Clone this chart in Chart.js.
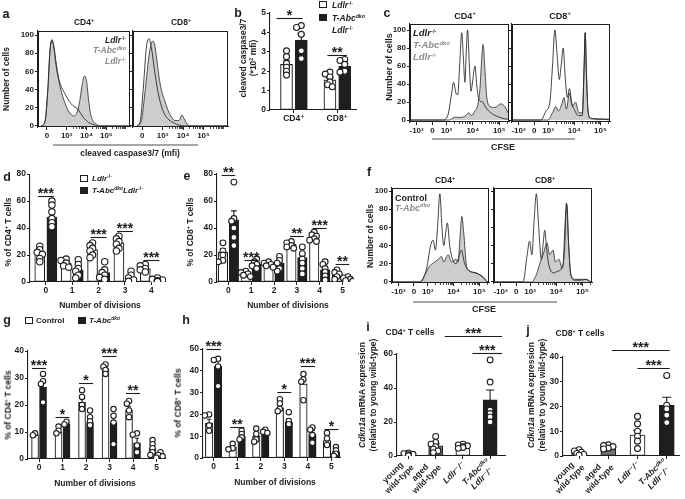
<!DOCTYPE html>
<html>
<head>
<meta charset="utf-8">
<title>T-Abc dko figure</title>
<script src="https://cdn.jsdelivr.net/npm/chart.js@4.4.1/dist/chart.umd.min.js"></script>
<style>
  html, body { margin: 0; padding: 0; background: #fff; }
  #fig { position: relative; width: 685px; height: 499px; overflow: hidden; background: #fff;
         font-family: 'Liberation Sans', Arial, Helvetica, sans-serif; color: #1e1e1e; }
  #fig canvas { position: absolute; }
  .tx { position: absolute; white-space: nowrap; font-weight: bold; font-size: 8.5px; line-height: 1; }
  .tx sup { font-size: 0.62em; vertical-align: 0.55em; line-height: 0; }
  .gray { color: #8c8c8c; }
  .sw { position: absolute; border: 1px solid #1e1e1e; box-sizing: border-box; }
  .rule { position: absolute; height: 1.5px; background: #a6a6a6; }
</style>
</head>
<body>
<div id="fig"></div>
<script>
// ---- a: cleaved caspase3/7 histograms, x in display units (0, 10^3, 10^4, 10^5 -> 0..3)
const aTicks = [0, 1, 2, 3];
const aTickLabels = ['0', '10³', '10⁴', '10⁵'];
const aCD4Dko = [[-0.3,0],[-0.1,4],[0.05,40],[0.15,80],[0.25,95],[0.35,86],[0.45,68],[0.6,50],[0.75,36],[0.9,26],[1.05,18],[1.2,13],[1.35,11],[1.5,14],[1.65,26],[1.78,45],[1.9,55],[2.0,50],[2.1,30],[2.2,14],[2.35,5],[2.5,2],[2.7,0],[4.2,0]];
const aCD4Ldlr = [[-0.3,0],[-0.1,5],[0.05,42],[0.15,82],[0.25,94],[0.35,88],[0.45,72],[0.6,52],[0.75,42],[0.9,36],[1.05,30],[1.2,25],[1.4,21],[1.55,19],[1.7,14],[1.9,8],[2.1,4],[2.3,2],[2.6,0],[4.2,0]];
const aCD8Dko = [[-0.25,0],[-0.05,5],[0.15,40],[0.35,80],[0.5,93],[0.6,90],[0.72,72],[0.85,50],[0.98,36],[1.1,28],[1.25,18],[1.4,11],[1.6,6],[1.8,6],[1.95,12],[2.05,8],[2.2,2],[2.4,0],[4.2,0]];
const aCD8Ldlr = [[-0.25,0],[-0.1,5],[0.05,40],[0.2,85],[0.33,96],[0.45,86],[0.6,62],[0.75,40],[0.9,25],[1.05,15],[1.25,8],[1.5,4],[1.8,1],[2.1,0],[4.2,0]];

// ---- c / f: CFSE histograms (biexponential display units)
const cfTicks = [-0.6, 0, 0.53, 1.53, 2.53];
const cfTickLabels = ['-10³', '0', '10³', '10⁴', '10⁵'];
const cCD4Ldlr = [[-0.85,0],[0.39,0],[0.58,5],[0.73,30],[0.8,42],[0.89,30],[0.96,28],[1.03,60],[1.11,97],[1.17,70],[1.23,42],[1.28,75],[1.33,100],[1.4,60],[1.46,32],[1.53,45],[1.61,60],[1.69,35],[1.77,22],[1.9,20],[2.02,14],[2.21,8],[2.46,4],[2.84,1],[2.9,1]];
const cCD4Dko = [[-0.85,0],[0.64,0],[0.83,3],[1.08,3],[1.27,5],[1.37,8],[1.48,5],[1.61,10],[1.71,16],[1.8,35],[1.87,70],[1.92,84],[1.99,55],[2.06,25],[2.19,15],[2.37,14],[2.59,18],[2.74,15],[2.9,6]];
const cCD8Ldlr = [[-0.85,0],[0.26,0],[0.45,10],[0.6,20],[0.7,60],[0.79,100],[0.87,75],[0.96,45],[1.03,60],[1.11,80],[1.18,50],[1.27,25],[1.35,35],[1.43,20],[1.56,10],[1.69,5],[1.84,5],[1.91,60],[1.95,97],[2.0,50],[2.06,10],[2.15,2],[2.59,1],[2.9,0]];
const cCD8Dko = [[-0.85,0],[0.52,0],[0.7,8],[0.83,15],[0.93,10],[1.06,18],[1.14,25],[1.23,12],[1.35,30],[1.46,15],[1.58,20],[1.71,8],[1.84,8],[1.91,60],[1.95,97],[2.0,50],[2.06,10],[2.15,2],[2.59,1],[2.9,1]];
const fCD4Ctrl = [[-0.85,0],[0.23,0],[0.49,15],[0.64,40],[0.74,46],[0.83,35],[0.91,60],[1.0,97],[1.08,60],[1.15,40],[1.23,55],[1.29,65],[1.38,40],[1.49,25],[1.62,20],[1.74,28],[1.83,35],[1.96,20],[2.15,12],[2.41,10],[2.67,5],[2.86,0],[2.9,0]];
const fCD4Dko = [[-0.85,0],[0.23,0],[0.42,8],[0.62,18],[0.81,22],[0.94,25],[1.06,28],[1.15,22],[1.26,28],[1.32,30],[1.45,22],[1.62,25],[1.71,22],[1.77,45],[1.85,72],[1.92,55],[2.03,18],[2.15,12],[2.35,10],[2.54,8],[2.73,4],[2.82,0],[2.9,0]];
const fCD8Ctrl = [[-0.85,0],[0.26,0],[0.42,30],[0.51,45],[0.6,30],[0.69,70],[0.77,97],[0.86,60],[0.96,25],[1.04,45],[1.09,57],[1.17,35],[1.24,20],[1.41,10],[1.6,12],[1.79,20],[1.88,70],[1.94,85],[2.01,40],[2.09,8],[2.24,2],[2.5,2],[2.69,3],[2.88,0],[2.9,0]];
const fCD8Dko = [[-0.85,0],[0.58,0],[0.77,8],[0.9,20],[1.03,30],[1.18,43],[1.28,30],[1.41,35],[1.5,22],[1.63,25],[1.76,15],[1.86,40],[1.92,87],[1.99,50],[2.08,10],[2.24,3],[2.63,3],[2.88,0],[2.9,0]];

// ---- b: cleaved caspase3/7 (*10^2 mfi)
const bCats = ['CD4⁺', 'CD8⁺'];
const bMeanCtrl = [2.35, 1.55];
const bMeanDko = [3.6, 2.25];
const bPtsCtrl = [[3.05, 2.75, 2.4, 2.2, 2.0, 1.8], [1.95, 1.85, 1.7, 1.45, 1.3, 1.2]];
const bPtsDko = [[4.35, 4.25, 3.9, 3.05, 2.65], [2.6, 2.55, 2.35, 2.0, 1.95]];
const bSig = [[-0.4, 0.2, 4.75, '*'], [0.77, 1.22, 2.85, '**']];

// ---- d / e: % of cells per division, Ldlr-/- vs T-Abc dko Ldlr-/-
const dCats = ['0', '1', '2', '3', '4'];
const dMeanCtrl = [21, 14, 24, 29, 10];
const dMeanDko = [48, 9, 7, 3, 1.5];
const dPtsCtrl = [[26.5, 24, 22, 20.5, 17.5, 15], [17, 16, 14, 12, 11], [29, 27, 25, 23, 20, 18], [34, 32, 30, 28, 25, 23], [13, 12, 10, 9, 7.5]];
const dPtsDko = [[60, 57, 52, 47, 44, 41], [16.5, 13, 10, 8, 5, 3], [15, 9, 7, 5, 3.5, 2], [8, 5, 3, 1.5, 0.5], [3, 2, 1.5, 1, 0.5, 0.3]];
const dSig = [[-0.3, 0.3, 64, '***'], [1.7, 2.3, 33, '***'], [2.7, 3.3, 37.5, '***'], [3.7, 4.3, 16, '***']];

const eCats = ['0', '1', '2', '3', '4', '5'];
const eMeanCtrl = [22, 6, 14, 28, 33, 5];
const eMeanDko = [46, 13, 14, 18, 9, 3];
const ePtsCtrl = [[29, 23, 20, 16, 15], [8, 7, 6, 5, 4], [15, 14, 13, 12, 11], [30, 29, 27, 26, 25], [37, 35, 34, 32, 31, 30], [9, 7, 6, 4, 2]];
const ePtsDko = [[74, 47, 45, 40, 33, 27], [17, 15, 13, 12, 10], [19, 16, 14, 10, 8], [26, 21, 17, 14, 10, 6], [15, 13, 10, 7.5, 4.5, 1.5], [4, 3, 2, 1, 0.5]];
const eSig = [[-0.3, 0.3, 79, '**'], [0.7, 1.3, 16.3, '***'], [2.7, 3.3, 34, '**'], [3.7, 4.3, 40, '***'], [4.7, 5.3, 13.3, '**']];

// ---- g / h: Control vs T-Abc dko
const gCats = ['0', '1', '2', '3', '4', '5'];
const gMeanCtrl = [9, 10, 21, 33.5, 18, 4];
const gMeanDko = [26.5, 13, 13.5, 13.5, 6, 1.5];
const gPtsCtrl = [[9.5, 8.8], [12, 10.5, 9.5], [25.5, 23, 20, 18.5], [35, 34.2, 33, 31.5], [21.5, 20.5, 18, 15.5], [7, 5.5, 4, 2.5, 1.5]];
const gPtsDko = [[31.5, 28.8, 27.8, 21], [13.8, 12.8], [18, 15.5, 14, 12.5], [18.5, 16, 13.5, 5.5], [9.5, 9, 5, 2.5], [2.5, 1.5, 1, 0.5]];
const gSig = [[-0.3, 0.3, 33.7, '***'], [0.7, 1.3, 15.6, '*'], [1.7, 2.3, 28, '*'], [2.7, 3.3, 38, '***'], [3.7, 4.3, 24.4, '**']];

const hCats = ['0', '1', '2', '3', '4', '5'];
const hMeanCtrl = [16, 5, 10, 23, 34, 8];
const hMeanDko = [42, 10, 12.5, 16.5, 11, 3];
const hPtsCtrl = [[20, 19.5, 15, 12.5], [6.5, 4.5, 4], [13.5, 11, 8.5, 7.5], [27, 25, 22.5, 21.5], [38.5, 36, 35, 26.5], [11.5, 9, 6]];
const hPtsDko = [[45.5, 45, 42, 33], [12.5, 11, 9.5, 8.5], [13, 12, 11.5], [21, 17, 15.5], [14, 13, 10.5, 7], [5, 3.5, 2, 1]];
const hSig = [[-0.3, 0.3, 50, '***'], [0.7, 1.3, 14.2, '**'], [2.7, 3.3, 30.3, '*'], [3.7, 4.3, 42.2, '***'], [4.7, 5.3, 13.3, '*']];

// ---- i / j: Cdkn1a mRNA expression
const ijCats = [['young', 'wild-type'], ['aged', 'wild-type'], ['Ldlr⁻/⁻'], ['T-Abcᵈᵏᵒ', 'Ldlr⁻/⁻']];
const iMeans = [1, 6, 5.5, 33];
const iPts = [[1.8, 1.4, 1.0, 0.8, 0.5, 0.3], [11.5, 8, 7, 5.5, 4, 3, 2], [7, 6.5, 6, 5.5, 5, 4.5], [56.5, 43.5, 27, 25, 23, 20]];
const iSig = [[1.33, 3.44, 70.5, '***'], [2.35, 3.44, 60.5, '***']];
const jMeans = [1, 3.5, 8.5, 20.5];
const jPts = [[2.5, 2, 1.5, 1, 0.6, 0.3], [4.5, 4.2, 3.8, 3.2, 2.8], [16, 13, 10, 8, 6, 3], [32.5, 20.5, 19, 16.5, 13.5]];
const jSig = [[1.12, 3.1, 42.8, '***'], [2.0, 3.1, 35.6, '***']];

// ------------------------------------------------------------------
const INK = '#1e1e1e';
const FONT = "'Liberation Sans', Arial, Helvetica, 'DejaVu Sans', sans-serif";
Chart.defaults.font.family = FONT;
Chart.defaults.color = INK;
Chart.defaults.animation = false;

const fig = document.getElementById('fig');
const LDLR = '<i>Ldlr</i><sup>-/-</sup>';
const TABC = '<i>T-Abc<sup>dko</sup></i>';

function txt(x, y, html, opt = {}) {
  const d = document.createElement('div');
  d.className = 'tx' + (opt.cls ? ' ' + opt.cls : '');
  d.innerHTML = html;
  d.style.left = x + 'px';
  d.style.top = y + 'px';
  if (opt.size) d.style.fontSize = opt.size + 'px';
  const ax = opt.anchor === 'left' ? '0' : opt.anchor === 'right' ? '-100%' : '-50%';
  d.style.transform = 'translate(' + ax + ',-50%)' + (opt.rot ? ' rotate(' + opt.rot + 'deg)' : '');
  fig.appendChild(d);
}
function swatch(x, y, w, h, fill) {
  const d = document.createElement('div');
  d.className = 'sw';
  Object.assign(d.style, { left: x + 'px', top: y + 'px', width: w + 'px', height: h + 'px', background: fill });
  fig.appendChild(d);
}
function rule(x0, x1, y) {
  const d = document.createElement('div');
  d.className = 'rule';
  Object.assign(d.style, { left: x0 + 'px', top: y + 'px', width: (x1 - x0) + 'px' });
  fig.appendChild(d);
}

function makeCanvas(p, m) {
  const c = document.createElement('canvas');
  const w = p[2] - p[0] + m[0] + m[2], h = p[3] - p[1] + m[1] + m[3];
  c.width = w; c.height = h;
  Object.assign(c.style, { left: (p[0] - m[0]) + 'px', top: (p[1] - m[1]) + 'px', width: w + 'px', height: h + 'px' });
  fig.appendChild(c);
  return c;
}
const zeroPad = s => { s.paddingLeft = s.paddingRight = s.paddingTop = s.paddingBottom = 0; };
const fitX = h => s => { s.height = h; zeroPad(s); };
const fitY = w => s => { s.width = w; zeroPad(s); };

function axis(o) {
  return Object.assign({
    type: 'linear', offset: false,
    border: { display: true, color: INK, width: 1.1 },
    grid: { display: true, offset: false, drawOnChartArea: false, drawTicks: true, tickLength: 3, tickWidth: 1, tickColor: INK },
  }, o);
}
function baseOptions(m) {
  return {
    responsive: false, animation: false, events: [], devicePixelRatio: 1,
    layout: { padding: { left: 0, top: m[1], right: m[2], bottom: 0 } },
    plugins: { legend: { display: false }, tooltip: { enabled: false } },
  };
}

const boxPlugin = {
  id: 'box',
  afterDraw(ch) {
    const a = ch.chartArea, c = ch.ctx;
    c.save(); c.strokeStyle = INK; c.lineWidth = 1;
    c.strokeRect(a.left + 0.5, a.top + 0.5, a.right - a.left - 1, a.bottom - a.top - 1);
    c.restore();
  }
};
function minorPlugin(values) {
  return {
    id: 'minor',
    afterDraw(ch) {
      const c = ch.ctx, x = ch.scales.x, b = ch.chartArea.bottom;
      c.save(); c.strokeStyle = INK; c.lineWidth = 0.8; c.beginPath();
      values.forEach(v => {
        if (v < x.min || v > x.max) return;
        const px = Math.round(x.getPixelForValue(v)) + 0.5;
        c.moveTo(px, b); c.lineTo(px, b + 2);
      });
      c.stroke(); c.restore();
    }
  };
}
function logMinor(starts) {
  const out = [];
  starts.forEach(s => { for (let k = 2; k <= 9; k++) out.push(s + Math.log10(k)); });
  return out;
}

function histo(p, m, xr, yr, ticks, labels, minor, fillData, lineData, showY) {
  const cv = makeCanvas(p, m);
  const opts = baseOptions(m);
  opts.scales = {
    x: axis({
      min: xr[0], max: xr[1], afterFit: fitX(m[3]),
      afterBuildTicks: s => { s.ticks = ticks.map(v => ({ value: v })); },
      ticks: { callback: (v, i) => labels[i], autoSkip: false, maxRotation: 0, padding: 1, color: INK, font: { size: 8, weight: 'bold' } },
    }),
    y: axis({
      min: yr[0], max: yr[1], afterFit: fitY(m[0]),
      afterBuildTicks: s => { s.ticks = [0, 20, 40, 60, 80, 100].map(v => ({ value: v })); },
      ticks: { callback: v => showY ? String(v) : '', padding: 1, color: INK, font: { size: 8, weight: 'bold' } },
    }),
  };
  return new Chart(cv, {
    type: 'line',
    data: { datasets: [
      { data: lineData.map(([x, y]) => ({ x, y })), borderColor: '#2b2b2b', borderWidth: 0.9, fill: false,
        pointRadius: 0, cubicInterpolationMode: 'monotone', order: 0 },
      { data: fillData.map(([x, y]) => ({ x, y })), borderColor: '#3c3c3c', borderWidth: 0.9, backgroundColor: '#cdcdcd',
        fill: 'origin', pointRadius: 0, cubicInterpolationMode: 'monotone', order: 1 },
    ] },
    options: opts,
    plugins: [boxPlugin, minorPlugin(minor)],
  });
}

function sem(v) {
  const n = v.length, mu = v.reduce((a, b) => a + b, 0) / n;
  const sd = Math.sqrt(v.reduce((a, b) => a + (b - mu) * (b - mu), 0) / (n - 1));
  return sd / Math.sqrt(n);
}
// nudge overlapping dots sideways (scatter dot plot style)
function swarm(vals, xc, pxX, pxY, r) {
  const placed = [], out = [];
  [...vals].sort((a, b) => b - a).forEach(v => {
    const py = v * pxY;
    let dx = 0;
    for (const k of [0, -1, 1, -2, 2]) {
      const cand = k * r * 0.8;
      if (placed.every(q => Math.hypot(q.x - cand, q.y - py) >= r * 1.05)) { dx = cand; break; }
    }
    placed.push({ x: dx, y: py });
    out.push({ x: xc + dx / pxX, y: v });
  });
  return out;
}
function errPlugin(list, cap) {
  return {
    id: 'errs',
    beforeDatasetsDraw(ch) {
      const c = ch.ctx, xs = ch.scales.x, ys = ch.scales.y;
      c.save(); c.strokeStyle = INK; c.lineWidth = 1.1; c.beginPath();
      list.forEach(e => {
        const x = xs.getPixelForValue(e.x), y0 = ys.getPixelForValue(e.mean), y1 = ys.getPixelForValue(e.mean + e.sem);
        c.moveTo(x, y0); c.lineTo(x, y1);
        c.moveTo(x - cap, y1); c.lineTo(x + cap, y1);
      });
      c.stroke(); c.restore();
    }
  };
}
function sigPlugin(list, size) {
  return {
    id: 'sig',
    afterDraw(ch) {
      const c = ch.ctx, xs = ch.scales.x, ys = ch.scales.y;
      c.save(); c.strokeStyle = INK; c.fillStyle = INK; c.lineWidth = 1.1;
      c.font = 'bold ' + size + 'px ' + FONT; c.textAlign = 'center'; c.textBaseline = 'alphabetic';
      list.forEach(([x0, x1, yv, t]) => {
        const a = xs.getPixelForValue(x0), b = xs.getPixelForValue(x1), y = Math.round(ys.getPixelForValue(yv)) + 0.5;
        c.beginPath(); c.moveTo(a, y); c.lineTo(b, y); c.stroke();
        c.fillText(t, (a + b) / 2, y + 1);
      });
      c.restore();
    }
  };
}
// rotated, centred multi-line category labels (i / j)
function rotLabels(cats, italicFrom, size) {
  return {
    id: 'rotLabels',
    afterDraw(ch) {
      const c = ch.ctx, xs = ch.scales.x, y0 = ch.chartArea.bottom + 7, lh = size * 1.1;
      c.save(); c.fillStyle = INK; c.textAlign = 'center'; c.textBaseline = 'middle';
      cats.forEach((lines, i) => {
        c.font = (i >= italicFrom ? 'italic ' : '') + 'bold ' + size + 'px ' + FONT;
        const w = Math.max(...lines.map(t => c.measureText(t).width));
        c.save();
        c.translate(xs.getPixelForValue(i) + 1, y0);
        c.rotate(-Math.PI / 4);
        lines.forEach((t, k) => c.fillText(t, -w / 2, (k - (lines.length - 1) / 2) * lh));
        c.restore();
      });
      c.restore();
    }
  };
}

function bars(p, m, o) {
  const cv = makeCanvas(p, m);
  const pxX = (p[2] - p[0]) / (o.xr[1] - o.xr[0]), pxY = (p[3] - p[1]) / o.yMax;
  const datasets = [], errs = [];
  o.groups.forEach(g => {
    datasets.push({ type: 'bar', data: g.means.map((v, i) => ({ x: i + g.off, y: v })), backgroundColor: g.fill,
      borderColor: INK, borderWidth: 1.1, borderSkipped: false, barThickness: o.bw, grouped: false, order: 1 });
    const pts = [];
    g.pts.forEach((vals, i) => {
      pts.push(...swarm(vals, i + g.off, pxX, pxY, o.r));
      errs.push({ x: i + g.off, mean: g.means[i], sem: sem(vals) });
    });
    datasets.push({ type: 'scatter', data: pts, pointRadius: o.r, pointBackgroundColor: '#fff',
      pointBorderColor: INK, pointBorderWidth: 1.1, order: 0 });
  });
  const opts = baseOptions(m);
  opts.scales = {
    x: axis({
      min: o.xr[0], max: o.xr[1], afterFit: fitX(m[3]),
      afterBuildTicks: s => { s.ticks = o.cats.map((_, i) => ({ value: i })); },
      ticks: { callback: (v, i) => o.rot ? '' : o.cats[i], autoSkip: false, padding: 1, color: INK,
        maxRotation: 0, font: { size: 8.5, weight: 'bold' } },
    }),
    y: axis({
      min: 0, max: o.yMax, afterFit: fitY(m[0]),
      ticks: { stepSize: o.step, padding: 1, color: INK, font: { size: 8.5, weight: 'bold' } },
    }),
  };
  const plugins = [errPlugin(errs, o.bw * 0.3), sigPlugin(o.sig, o.sigSize || 13)];
  if (o.rot) plugins.push(rotLabels(o.cats, o.italicFrom, 8.5));
  return new Chart(cv, { type: 'bar', data: { datasets }, options: opts, plugins });
}

// ------------------------------------------------------------------ panel a
histo([38, 31, 130, 127], [26, 2, 2, 18], [-0.45, 4.2], [-1.1, 104.4], aTicks, aTickLabels, logMinor([1, 2, 3]), aCD4Dko, aCD4Ldlr, true);
histo([133, 31, 228, 127], [6, 2, 4, 18], [-0.45, 4.2], [-1.1, 104.4], aTicks, aTickLabels, logMinor([1, 2, 3]), aCD8Dko, aCD8Ldlr, false);
txt(6, 14, 'a', { size: 12.5 });
txt(84, 22, 'CD4<sup>+</sup>');
txt(181, 22, 'CD8<sup>+</sup>');
txt(6, 79, 'Number of cells', { rot: -90 });
txt(126, 40, LDLR, { anchor: 'right' });
txt(126, 50, TABC, { anchor: 'right', cls: 'gray' });
txt(126, 61, LDLR, { anchor: 'right', cls: 'gray' });
rule(53, 198, 144);
txt(130, 153, 'cleaved caspase3/7 (mfi)');

// ------------------------------------------------------------------ panel b
bars([270, 13, 358, 110], [22, 14, 4, 26], {
  cats: bCats, xr: [-0.55, 1.45], yMax: 5, step: 1, bw: 12, r: 3, sig: bSig, sigSize: 14,
  groups: [
    { means: bMeanCtrl, pts: bPtsCtrl, fill: '#ffffff', off: -0.17 },
    { means: bMeanDko, pts: bPtsDko, fill: INK, off: 0.17 },
  ],
});
txt(238, 13, 'b', { size: 12.5 });
txt(243, 58, 'cleaved caspase3/7', { rot: -90 });
txt(253, 58, '(*10<sup>2</sup> mfi)', { rot: -90 });
swatch(319, 1, 8, 7, '#fff');
txt(332, 4.5, LDLR, { anchor: 'left' });
swatch(319, 14, 8, 7, INK);
txt(332, 17.5, TABC, { anchor: 'left' });
txt(332, 29.5, LDLR, { anchor: 'left' });

// ------------------------------------------------------------------ panel c
const cfMinor = logMinor([0.53, 1.53, 2.53]);
histo([410, 24, 509, 122], [24, 2, 2, 14], [-0.85, 2.9], [-2.2, 106.7], cfTicks, cfTickLabels, cfMinor, cCD4Dko, cCD4Ldlr, true);
histo([512, 24, 610, 122], [6, 2, 8, 14], [-0.85, 2.9], [-2.2, 106.7], cfTicks, cfTickLabels, cfMinor, cCD8Dko, cCD8Ldlr, false);
txt(387, 13, 'c', { size: 12.5 });
txt(465, 16, 'CD4<sup>+</sup>', { size: 9 });
txt(560, 16, 'CD8<sup>+</sup>', { size: 9 });
txt(389, 67, 'Number of cells', { rot: -90, size: 9 });
txt(413, 33, LDLR, { anchor: 'left', size: 9.5 });
txt(413, 45, TABC, { anchor: 'left', cls: 'gray', size: 9.5 });
txt(413, 57, LDLR, { anchor: 'left', cls: 'gray', size: 9.5 });
rule(432, 575, 138);
txt(503, 147, 'CFSE', { size: 9 });

// ------------------------------------------------------------------ panel d
bars([30, 173, 167, 282], [22, 4, 4, 18], {
  cats: dCats, xr: [-0.6, 4.55], yMax: 80, step: 20, bw: 10, r: 3.2, sig: dSig, sigSize: 14,
  groups: [
    { means: dMeanCtrl, pts: dPtsCtrl, fill: '#ffffff', off: -0.23 },
    { means: dMeanDko, pts: dPtsDko, fill: INK, off: 0.23 },
  ],
});
txt(7, 177, 'd', { size: 12.5 });
txt(8, 232, '% of CD4<sup>+</sup> T cells', { rot: -90 });
swatch(80, 175, 8, 7, '#fff');
txt(92, 178.5, LDLR, { anchor: 'left', size: 8 });
swatch(80, 187, 8, 7, INK);
txt(92, 190.5, TABC + LDLR, { anchor: 'left', size: 8 });
txt(100, 305, 'Number of divisions');

// ------------------------------------------------------------------ panel e
bars([217, 174, 355, 282], [22, 14, 4, 18], {
  cats: eCats, xr: [-0.5, 5.5], yMax: 80, step: 20, bw: 9.5, r: 2.9, sig: eSig, sigSize: 14,
  groups: [
    { means: eMeanCtrl, pts: ePtsCtrl, fill: '#ffffff', off: -0.24 },
    { means: eMeanDko, pts: ePtsDko, fill: INK, off: 0.24 },
  ],
});
txt(187, 176, 'e', { size: 12.5 });
txt(190, 232, '% of CD8<sup>+</sup> T cells', { rot: -90 });
txt(288, 305, 'Number of divisions');

// ------------------------------------------------------------------ panel f
histo([392, 188, 489, 283], [24, 2, 2, 14], [-0.85, 2.9], [-1.1, 103.3], cfTicks, cfTickLabels, cfMinor, fCD4Dko, fCD4Ctrl, true);
histo([494, 188, 592, 283], [6, 2, 8, 14], [-0.85, 2.9], [-1.1, 103.3], cfTicks, cfTickLabels, cfMinor, fCD8Dko, fCD8Ctrl, false);
txt(369, 172, 'f', { size: 12.5 });
txt(445, 180, 'CD4<sup>+</sup>');
txt(545, 180, 'CD8<sup>+</sup>');
txt(370, 236, 'Number of cells', { rot: -90 });
txt(395, 198, 'Control', { anchor: 'left', size: 9 });
txt(395, 208, TABC, { anchor: 'left', cls: 'gray', size: 9 });
rule(413, 557, 301);
txt(484, 309, 'CFSE', { size: 9 });

// ------------------------------------------------------------------ panel g
bars([28, 351, 167, 459], [22, 12, 4, 18], {
  cats: gCats, xr: [-0.47, 5.4], yMax: 40, step: 10, bw: 7, r: 2.7, sig: gSig, sigSize: 14,
  groups: [
    { means: gMeanCtrl, pts: gPtsCtrl, fill: '#ffffff', off: -0.17 },
    { means: gMeanDko, pts: gPtsDko, fill: INK, off: 0.17 },
  ],
});
txt(7, 320, 'g', { size: 12.5 });
swatch(25, 317, 8, 7, '#fff');
txt(36, 320.5, 'Control', { anchor: 'left', size: 8 });
swatch(78, 317, 8, 7, INK);
txt(89, 320.5, TABC, { anchor: 'left', size: 8 });
txt(8, 405, '% of CD4<sup>+</sup> T cells', { rot: -90 });
txt(95, 483, 'Number of divisions');

// ------------------------------------------------------------------ panel h
bars([203, 349, 342, 458], [22, 12, 4, 18], {
  cats: hCats, xr: [-0.45, 5.4], yMax: 50, step: 10, bw: 7.5, r: 2.7, sig: hSig, sigSize: 14,
  groups: [
    { means: hMeanCtrl, pts: hPtsCtrl, fill: '#ffffff', off: -0.19 },
    { means: hMeanDko, pts: hPtsDko, fill: INK, off: 0.19 },
  ],
});
txt(186, 320, 'h', { size: 12.5 });
txt(178, 403, '% of CD8<sup>+</sup> T cells', { rot: -90 });
txt(275, 482, 'Number of divisions');

// ------------------------------------------------------------------ panels i / j
const ijFill = ['#ffffff', '#737373', '#ffffff', INK];
bars([397, 354, 507, 456], [22, 30, 4, 43], {
  cats: ijCats, xr: [-0.42, 3.58], yMax: 60, step: 20, bw: 14, r: 2.9, sig: iSig, sigSize: 14,
  rot: true, italicFrom: 2,
  groups: [{ means: iMeans, pts: iPts, fill: ijFill, off: 0 }],
});
txt(368, 327, 'i', { size: 12.5 });
txt(410, 332, 'CD4<sup>+</sup> T cells');
txt(362, 395, '<i>Cdkn1a</i> mRNA expression', { rot: -90 });
txt(373, 395, '(relative to young wild-type)', { rot: -90 });

bars([563, 357, 683, 456], [22, 30, 2, 43], {
  cats: ijCats, xr: [-0.55, 3.45], yMax: 40, step: 10, bw: 15, r: 3, sig: jSig, sigSize: 14,
  rot: true, italicFrom: 2,
  groups: [{ means: jMeans, pts: jPts, fill: ijFill, off: 0 }],
});
txt(528, 330, 'j', { size: 12.5 });
txt(580, 333, 'CD8<sup>+</sup> T cells');
txt(531, 395, '<i>Cdkn1a</i> mRNA expression', { rot: -90 });
txt(542, 395, '(relative to young wild-type)', { rot: -90 });
</script>
</body>
</html>
